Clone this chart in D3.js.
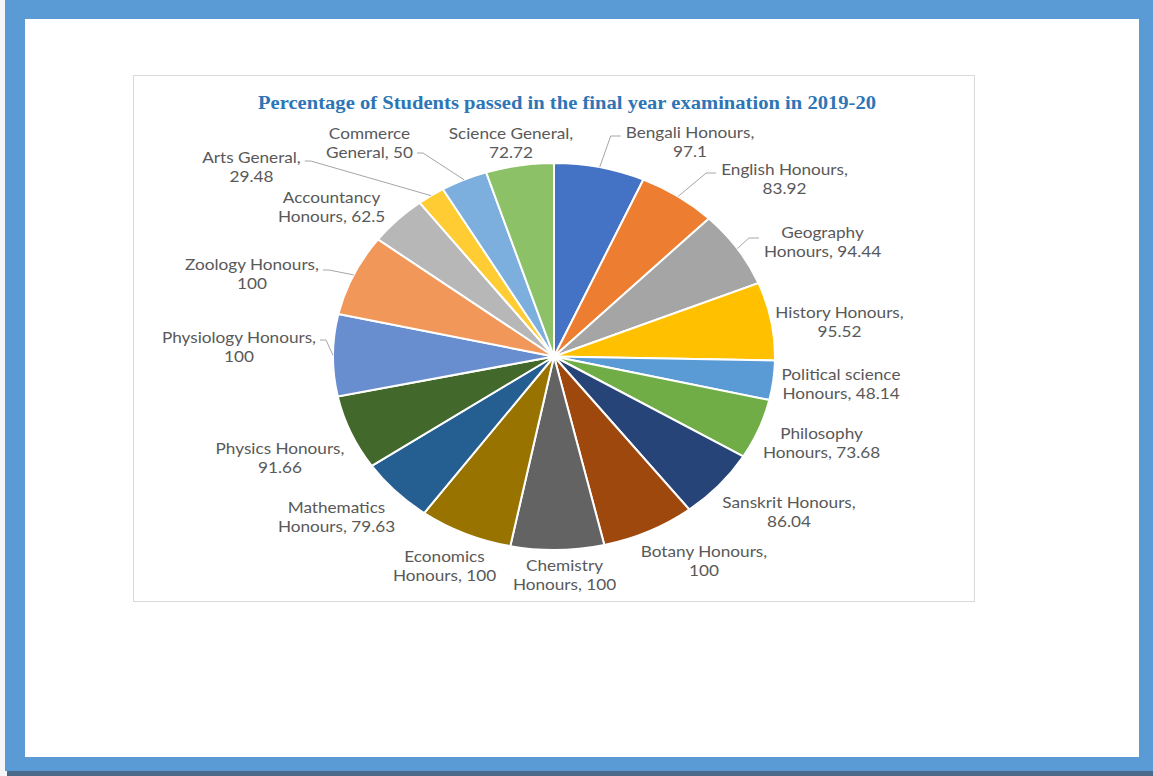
<!DOCTYPE html>
<html>
<head>
<meta charset="utf-8">
<script src="https://cdn.jsdelivr.net/npm/d3@7"></script>
<style>
  html, body { margin: 0; padding: 0; background: #ffffff; }
  svg { display: block; }
</style>
</head>
<body>
<svg id="chart" width="1153" height="776"></svg>
<script>
// ---------- data ----------
const title = "Percentage of Students passed in the final year examination in 2019-20";
const categories = [
  "Bengali Honours", "English Honours", "Geography Honours", "History Honours",
  "Political science Honours", "Philosophy Honours", "Sanskrit Honours", "Botany Honours",
  "Chemistry Honours", "Economics Honours", "Mathematics Honours", "Physics Honours",
  "Physiology Honours", "Zoology Honours", "Accountancy Honours", "Arts General",
  "Commerce General", "Science General"
];
const values = [97.1, 83.92, 94.44, 95.52, 48.14, 73.68, 86.04, 100, 100, 100, 79.63, 91.66, 100, 100, 62.5, 29.48, 50, 72.72];
const colors = [
  "#4472C4", "#ED7D31", "#A5A5A5", "#FFC000", "#5B9BD5", "#70AD47", "#264478", "#9E480E",
  "#636363", "#997300", "#255E91", "#43682B", "#698ED0", "#F1975A", "#B7B7B7", "#FFCD33",
  "#7CAFDD", "#8CC168"
];

// ---------- label layout (words on first line, block offset from pie centre, leader) ----------
const wrapWords = [2, 2, 1, 2, 2, 1, 2, 2, 1, 1, 1, 2, 2, 2, 1, 2, 1, 2];
const labelOffsets = [
  [136, -214], [230.5, -177], [268.5, -114], [285.5, -34.5], [287, 27.5], [267.5, 86.5],
  [235, 155.5], [150, 204.5], [10.5, 219], [-109.5, 209.5], [-217.5, 160.5], [-274, 101.5],
  [-315, -9.5], [-302, -82], [-222.5, -149.5], [-302.5, -189.5], [-184.5, -213.5], [-43, -213.5]
];
const leaders = [
  {side: "r", dy: -6.5}, {side: "r", dy: -6.5}, {side: "r", dy: -4.5}, null, null, null,
  null, null, null, null, null, null,
  {side: "l", dy: -7}, {side: "l", dy: -4.5}, null, {side: "l", dy: -6}, {side: "l", dy: 10}, null
];

// ---------- geometry ----------
const W = 1153, H = 776;
const cx = 554, cy = 356.5, rx = 221, ry = 193.5;
const stretch = 1.145; // the picture is widened horizontally

const svg = d3.select("#chart");

// outer frame
svg.append("rect").attr("x", 0).attr("y", 0).attr("width", W).attr("height", H).attr("fill", "#f4f6f8");
svg.append("rect").attr("x", 7).attr("y", 766).attr("width", W - 7).attr("height", 10).attr("fill", "#4a6a8c");
svg.append("rect").attr("x", 5).attr("y", 0).attr("width", W - 5).attr("height", 771).attr("fill", "#5B9BD5");
svg.append("rect").attr("x", 25).attr("y", 19).attr("width", 1114).attr("height", 738).attr("fill", "#ffffff");

// chart area
svg.append("rect").attr("x", 133.5).attr("y", 75.5).attr("width", 841).attr("height", 526)
  .attr("fill", "#ffffff").attr("stroke", "#D9D9D9").attr("stroke-width", 1);

// title
svg.append("text")
  .attr("transform", `translate(567,103) scale(${stretch},1)`)
  .attr("dy", "0.35em")
  .attr("text-anchor", "middle")
  .attr("font-family", "'Liberation Serif', 'Times New Roman', serif")
  .attr("font-weight", "bold").attr("font-size", 18)
  .attr("fill", "#2E75B6")
  .text(title);

// pie
const pie = d3.pie().sort(null).value(d => d).startAngle(0).endAngle(2 * Math.PI);
const arcs = pie(values);
const arc = d3.arc().innerRadius(0).outerRadius(rx);

const pieG = svg.append("g").attr("transform", `translate(${cx},${cy}) scale(1,${ry / rx})`);
pieG.selectAll("path").data(arcs).join("path")
  .attr("d", arc)
  .attr("fill", (d, i) => colors[i])
  .attr("stroke", "#ffffff").attr("stroke-width", 2)
  .attr("vector-effect", "non-scaling-stroke");

// labels
const lineGap = 19.5;
const labG = svg.append("g")
  .attr("font-family", "Lato, 'Open Sans', sans-serif")
  .attr("font-size", 15)
  .attr("fill", "#595959");

const leaderG = svg.append("g").attr("fill", "none").attr("stroke", "#A6A6A6").attr("stroke-width", 1);

arcs.forEach((d, i) => {
  const words = (categories[i] + ", " + values[i]).split(" ");
  const lines = [words.slice(0, wrapWords[i]).join(" "), words.slice(wrapWords[i]).join(" ")];
  const lx = cx + labelOffsets[i][0];
  const ly = cy + labelOffsets[i][1];
  const t = labG.append("text").attr("text-anchor", "middle")
    .attr("transform", `translate(${lx},${ly}) scale(${stretch},1)`);
  let maxW = 0;
  lines.forEach((ln, k) => {
    const ts = t.append("tspan").attr("x", 0).attr("y", (k - 0.5) * lineGap).attr("dy", "0.35em").text(ln);
    maxW = Math.max(maxW, ts.node().getComputedTextLength() * stretch);
  });
  const ld = leaders[i];
  if (ld) {
    const a = (d.startAngle + d.endAngle) / 2;
    const p = d3.pointRadial(a, rx);
    const sx = cx + p[0], sy = cy + p[1] * ry / rx;
    const ey = ly + ld.dy;
    let ex, elx;
    if (ld.side === "r") { ex = lx - maxW / 2 - 5; elx = ex - 10; }
    else { ex = lx + maxW / 2 + 4; elx = ex + 6; }
    leaderG.append("path").attr("d", d3.line()([[sx, sy], [elx, ey], [ex, ey]]));
  }
});
</script>
</body>
</html>
